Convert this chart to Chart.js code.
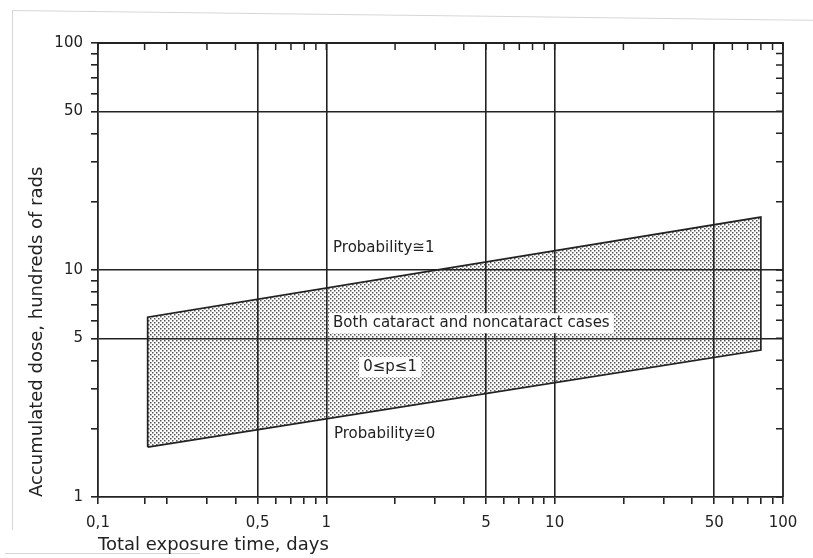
<!DOCTYPE html>
<html>
<head>
<meta charset="utf-8">
<script src="https://cdn.jsdelivr.net/npm/chart.js@4.4.1/dist/chart.umd.min.js"></script>
<style>
  html, body { margin: 0; padding: 0; background: #fff; }
  #wrap { position: relative; width: 813px; height: 558px; overflow: hidden; }
  #chart { position: absolute; left: 0; top: 0; }
  .edge { position: absolute; background: #d6d6d6; }
</style>
</head>
<body>
<div id="wrap">
  <div class="edge" style="left:12px; top:10px; width:1px; height:520px;"></div>
  <div class="edge" style="left:12px; top:10px; width:801px; height:1px; transform-origin:0 0; transform:rotate(0.7deg);"></div>
  <div class="edge" style="left:5px; top:553px; width:195px; height:1px;"></div>
  <canvas id="chart" width="813" height="558"></canvas>
</div>
<script>
// band corners: exposure time (days) vs accumulated dose (hundreds of rads)
const bandTime = [0.165, 0.165, 80, 80, 0.165];
const bandDose = [1.66, 6.2, 17.1, 4.44, 1.66];

const timeTicks = [0.1, 0.16, 0.2, 0.3, 0.4, 0.5, 0.6, 0.7, 0.8, 0.9, 1, 2, 3, 4, 5, 6, 7, 8, 9,
                   10, 20, 30, 40, 50, 60, 70, 80, 90, 100];
const timeLabels = { 0.1: "0,1", 0.5: "0,5", 1: "1", 5: "5", 10: "10", 50: "50", 100: "100" };
const doseTicks = [1, 2, 3, 4, 5, 6, 7, 8, 9, 10, 20, 30, 40, 50, 60, 70, 80, 90, 100];
const doseLabels = { 1: "1", 5: "5", 10: "10", 50: "50", 100: "100" };

// text written inside the plot, anchored at (time, dose)
const noteText = ["Probability≅1", "Both cataract and noncataract cases", "0≤p≤1", "Probability≅0"];
const noteTime = [1.07, 1.07, 1.45, 1.08];
const noteDose = [12.5, 5.83, 3.74, 1.9];
const noteBoxed = [false, true, true, false];

const ink = "#222";
const fontFamily = "'DejaVu Sans', sans-serif";

const canvas = document.getElementById("chart");
const ctx = canvas.getContext("2d");

// fine stipple used for the band
function dotPattern(c) {
    const tile = document.createElement("canvas");
    tile.width = 4;
    tile.height = 4;
    const t = tile.getContext("2d");
    t.fillStyle = "rgba(55,55,55,0.85)";
    t.fillRect(0, 0, 1.5, 1.5);
    t.fillRect(2, 2, 1.5, 1.5);
    return c.createPattern(tile, "repeat");
}

// only labelled values get a full grid line; the ends are the frame
function gridColor(labels, lo, hi) {
    return function (c) {
        const v = c.tick ? c.tick.value : null;
        if (v === null || v === lo || v === hi) return "rgba(0,0,0,0)";
        return labels[v] !== undefined ? ink : "rgba(0,0,0,0)";
    };
}

// top and right edges with inward ticks
const framePlugin = {
    id: "frame",
    afterDatasetsDraw(chart) {
        const { ctx, chartArea: a, scales } = chart;
        ctx.save();
        ctx.strokeStyle = ink;
        ctx.lineWidth = 1.8;
        ctx.beginPath();
        ctx.moveTo(a.left, a.top);
        ctx.lineTo(a.right, a.top);
        ctx.lineTo(a.right, a.bottom);
        ctx.stroke();
        ctx.lineWidth = 1.5;
        ctx.beginPath();
        timeTicks.forEach(v => {
            const px = scales.x.getPixelForValue(v);
            ctx.moveTo(px, a.top);
            ctx.lineTo(px, a.top + 7);
        });
        doseTicks.forEach(v => {
            const py = scales.y.getPixelForValue(v);
            ctx.moveTo(a.right, py);
            ctx.lineTo(a.right - 7, py);
        });
        ctx.stroke();
        ctx.restore();
    }
};

const notesPlugin = {
    id: "notes",
    afterDraw(chart) {
        const { ctx, scales } = chart;
        ctx.save();
        ctx.font = "15px " + fontFamily;
        ctx.textBaseline = "middle";
        ctx.textAlign = "left";
        noteText.forEach((txt, i) => {
            const px = scales.x.getPixelForValue(noteTime[i]);
            const py = scales.y.getPixelForValue(noteDose[i]);
            const w = ctx.measureText(txt).width;
            if (noteBoxed[i]) {
                ctx.fillStyle = "#fff";
                ctx.fillRect(px - 4, py - 10, w + 8, 20);
            }
            ctx.fillStyle = ink;
            ctx.fillText(txt, px, py);
        });
        ctx.restore();
    }
};

new Chart(ctx, {
    type: "scatter",
    data: {
        datasets: [{
            data: bandTime.map((t, i) => ({ x: t, y: bandDose[i] })),
            showLine: true,
            fill: "shape",
            backgroundColor: dotPattern(ctx),
            borderColor: ink,
            borderWidth: 1.7,
            pointRadius: 0,
            tension: 0
        }]
    },
    options: {
        responsive: false,
        animation: false,
        devicePixelRatio: 1,
        layout: { padding: { top: 43, right: 30, left: 0, bottom: 0 } },
        plugins: {
            legend: { display: false },
            tooltip: { enabled: false }
        },
        scales: {
            x: {
                type: "logarithmic",
                min: 0.1,
                max: 100,
                afterBuildTicks: s => { s.ticks = timeTicks.map(v => ({ value: v })); },
                afterFit: s => { s.height = 61; },
                ticks: {
                    autoSkip: false,
                    maxRotation: 0,
                    padding: 10,
                    color: ink,
                    font: { family: fontFamily, size: 15 },
                    callback: v => timeLabels[v] || ""
                },
                grid: {
                    color: gridColor(timeLabels, 0.1, 100),
                    tickColor: ink,
                    tickLength: 7,
                    lineWidth: 1.6
                },
                border: { color: ink, width: 1.8 },
                title: {
                    display: true,
                    text: "Total exposure time, days",
                    align: "start",
                    color: ink,
                    font: { family: fontFamily, size: 18 },
                    padding: { top: 0, bottom: 2 }
                }
            },
            y: {
                type: "logarithmic",
                min: 1,
                max: 100,
                afterBuildTicks: s => { s.ticks = doseTicks.map(v => ({ value: v })); },
                afterFit: s => { s.width = 98; },
                ticks: {
                    autoSkip: false,
                    padding: 8,
                    color: ink,
                    font: { family: fontFamily, size: 15 },
                    callback: v => doseLabels[v] || ""
                },
                grid: {
                    color: gridColor(doseLabels, 1, 100),
                    tickColor: ink,
                    tickLength: 7,
                    lineWidth: 1.6
                },
                border: { color: ink, width: 1.8 },
                title: {
                    display: true,
                    text: "Accumulated dose, hundreds of rads",
                    align: "start",
                    color: ink,
                    font: { family: fontFamily, size: 18 },
                    padding: { top: 27, bottom: 0 }
                }
            }
        }
    },
    plugins: [framePlugin, notesPlugin]
});
</script>
</body>
</html>
